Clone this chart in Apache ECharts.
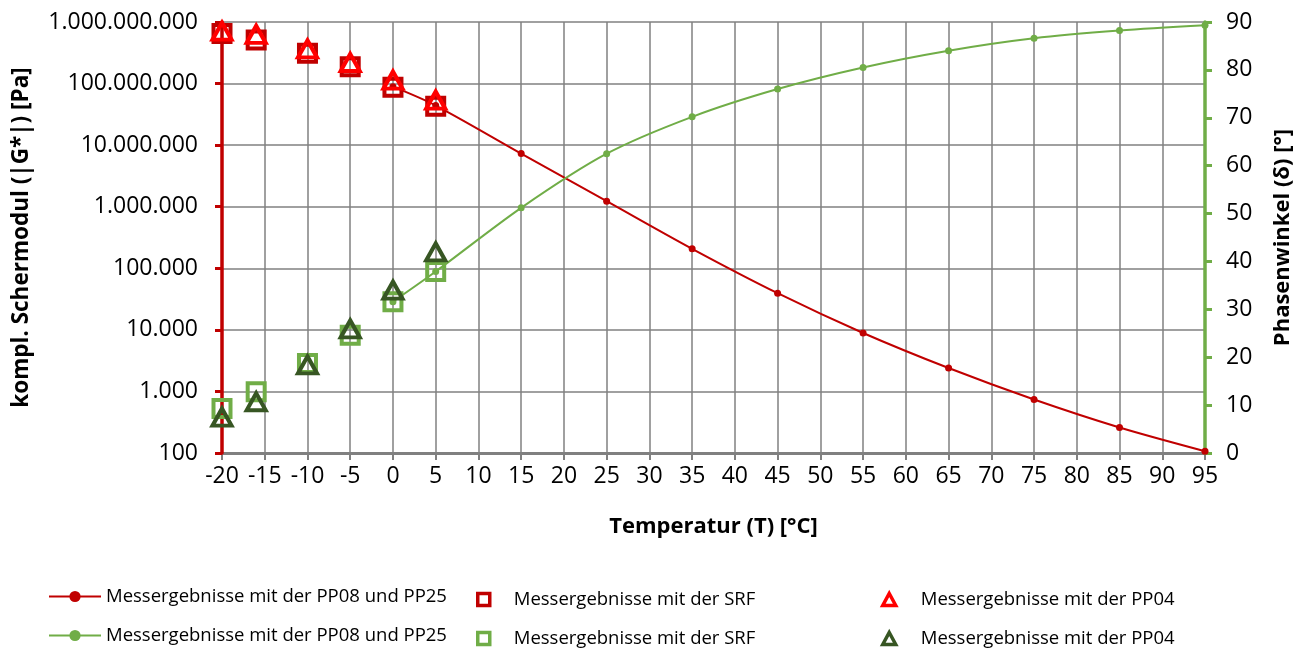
<!DOCTYPE html>
<html>
<head>
<meta charset="utf-8">
<script src="https://cdn.jsdelivr.net/npm/echarts@6/dist/echarts.min.js"></script>
<style>
html,body{margin:0;padding:0;background:#fff;}
#chart{width:1308px;height:650px;}
</style>
</head>
<body>
<div id="chart"></div>
<script>
// ---- data ----
const tempLine = [0, 5, 15, 25, 35, 45, 55, 65, 75, 85, 95];
const gLine = [8.9e7, 4.4e7, 7.3e6, 1.23e6, 2.07e5, 3.94e4, 8.9e3, 2.4e3, 740, 260, 107];
const deltaLine = [31.6, 37.9, 51.2, 62.5, 70.2, 76.0, 80.5, 84.0, 86.6, 88.2, 89.3];
const tempLow = [-20, -16, -10, -5, 0, 5];
const gSRF = [6.5e8, 5.1e8, 3.1e8, 1.88e8, 8.7e7, 4.3e7];
const gPP04 = [7.1e8, 6.3e8, 3.65e8, 2.2e8, 1.14e8, 5.4e7];
const deltaSRF = [9.3, 12.8, 18.7, 24.6, 31.6, 37.9];
const deltaPP04 = [7.5, 10.7, 18.4, 25.9, 34.0, 42.0];
const nameLine = 'Messergebnisse mit der PP08 und PP25';
const nameSRF = 'Messergebnisse mit der SRF';
const namePP04 = 'Messergebnisse mit der PP04';
const xAxisName = 'Temperatur (T) [°C]';
const yLeftName = 'kompl. Schermodul (|G*|) [Pa]';
const yRightName = 'Phasenwinkel (δ) [°]';

const FONT = '"Open Sans", sans-serif';
const RED = '#C00000', RED2 = '#FF0000', GREEN = '#70AD47', DGREEN = '#375623', GRID = '#808080';

function zip(xs, ys) { return xs.map((x, i) => [x, ys[i]]); }
function fmtDE(v) { return String(Math.round(v)).replace(/\B(?=(\d{3})+(?!\d))/g, '.'); }

const chart = echarts.init(document.getElementById('chart'), null, {renderer: 'canvas'});

const legendText = {fontFamily: FONT, fontSize: 18.5, color: '#000'};
function leg(name, left, top, extra) {
  return Object.assign({
    data: [name], left: left, top: top, orient: 'horizontal', selectedMode: false,
    textStyle: Object.assign({}, legendText), padding: 0,
    formatter: n => n.trim()
  }, extra);
}
function markerLegend(name, left, top, color, icon, w, h, pad) {
  return leg(name, left, top, {
    itemWidth: w, itemHeight: h, icon: icon,
    itemStyle: {color: '#fff', borderColor: color, borderWidth: 3.5, opacity: 1},
    textStyle: Object.assign({}, legendText, {padding: [0, 0, 0, pad]})
  });
}

const option = {
  animation: false,
  backgroundColor: '#fff',
  grid: {left: 222, right: 103, top: 22, bottom: 197, containLabel: false},
  xAxis: {
    type: 'value', min: -20, max: 95, interval: 5, z: 0,
    name: xAxisName, nameLocation: 'middle', nameGap: 63,
    nameTextStyle: {fontFamily: FONT, fontSize: 22, fontWeight: 'bold', color: '#000'},
    axisLine: {show: true, onZero: false, lineStyle: {color: GRID, width: 3}},
    axisTick: {show: true, length: 7, lineStyle: {color: GRID, width: 2}},
    axisLabel: {fontFamily: FONT, fontSize: 23, color: '#000', margin: 12},
    splitLine: {show: true, lineStyle: {color: GRID, width: 1.5}}
  },
  yAxis: [{
    type: 'log', logBase: 10, min: 100, max: 1e9, position: 'left', z: 1,
    name: yLeftName, nameLocation: 'middle', nameGap: 189,
    nameTextStyle: {fontFamily: FONT, fontSize: 22.5, fontWeight: 'bold', color: '#000'},
    axisLine: {show: true, onZero: false, lineStyle: {color: RED, width: 3.5}},
    axisTick: {show: true, length: 7, lineStyle: {color: RED, width: 3}},
    axisLabel: {fontFamily: FONT, fontSize: 23, color: '#000', margin: 24, formatter: v => fmtDE(v)},
    splitLine: {show: true, lineStyle: {color: GRID, width: 1.5}},
    minorTick: {show: false}
  }, {
    type: 'value', min: 0, max: 90, interval: 10, position: 'right', z: 1,
    name: yRightName, nameLocation: 'middle', nameGap: 67,
    nameTextStyle: {fontFamily: FONT, fontSize: 22, fontWeight: 'bold', color: '#000'},
    axisLine: {show: true, onZero: false, lineStyle: {color: GREEN, width: 3.5}},
    axisTick: {show: true, length: 7, lineStyle: {color: GREEN, width: 3}},
    axisLabel: {fontFamily: FONT, fontSize: 23, color: '#000', margin: 21},
    splitLine: {show: false}
  }],
  legend: [
    leg(nameLine, 48, 587, {itemWidth: 52, itemHeight: 14}),
    markerLegend(nameSRF, 476, 590, RED, 'rect', 12, 12, 19),
    markerLegend(namePP04, 881, 590, RED2, 'triangle', 13, 12, 20),
    leg(nameLine + ' ', 48, 626, {itemWidth: 52, itemHeight: 14}),
    markerLegend(nameSRF + ' ', 476, 629, GREEN, 'rect', 12, 12, 19),
    markerLegend(namePP04 + ' ', 881, 629, DGREEN, 'triangle', 13, 12, 20)
  ],
  series: [
    {
      name: nameLine, type: 'line', yAxisIndex: 0, data: zip(tempLine, gLine), smooth: 0.3,
      symbol: 'circle', symbolSize: 7, showSymbol: true,
      lineStyle: {color: RED, width: 2}, itemStyle: {color: RED}, z: 3
    },
    {
      name: nameSRF, type: 'scatter', yAxisIndex: 0, data: zip(tempLow, gSRF), clip: false,
      symbol: 'rect', symbolSize: 17,
      itemStyle: {color: 'rgba(255,255,255,0)', borderColor: RED, borderWidth: 4, opacity: 1}, z: 4
    },
    {
      name: namePP04, type: 'scatter', yAxisIndex: 0, data: zip(tempLow, gPP04), clip: false,
      symbol: 'triangle', symbolSize: [19, 17],
      itemStyle: {color: 'rgba(255,255,255,0)', borderColor: RED2, borderWidth: 4, opacity: 1}, z: 5
    },
    {
      name: nameLine + ' ', type: 'line', yAxisIndex: 1, data: zip(tempLine, deltaLine), smooth: 0.3,
      symbol: 'circle', symbolSize: 7, showSymbol: true,
      lineStyle: {color: GREEN, width: 2}, itemStyle: {color: GREEN}, z: 3
    },
    {
      name: nameSRF + ' ', type: 'scatter', yAxisIndex: 1, data: zip(tempLow, deltaSRF), clip: false,
      symbol: 'rect', symbolSize: 17,
      itemStyle: {color: 'rgba(255,255,255,0)', borderColor: GREEN, borderWidth: 4, opacity: 1}, z: 4
    },
    {
      name: namePP04 + ' ', type: 'scatter', yAxisIndex: 1, data: zip(tempLow, deltaPP04), clip: false,
      symbol: 'triangle', symbolSize: [19, 17],
      itemStyle: {color: 'rgba(255,255,255,0)', borderColor: DGREEN, borderWidth: 4, opacity: 1}, z: 5
    }
  ]
};
chart.setOption(option);
</script>
</body>
</html>
